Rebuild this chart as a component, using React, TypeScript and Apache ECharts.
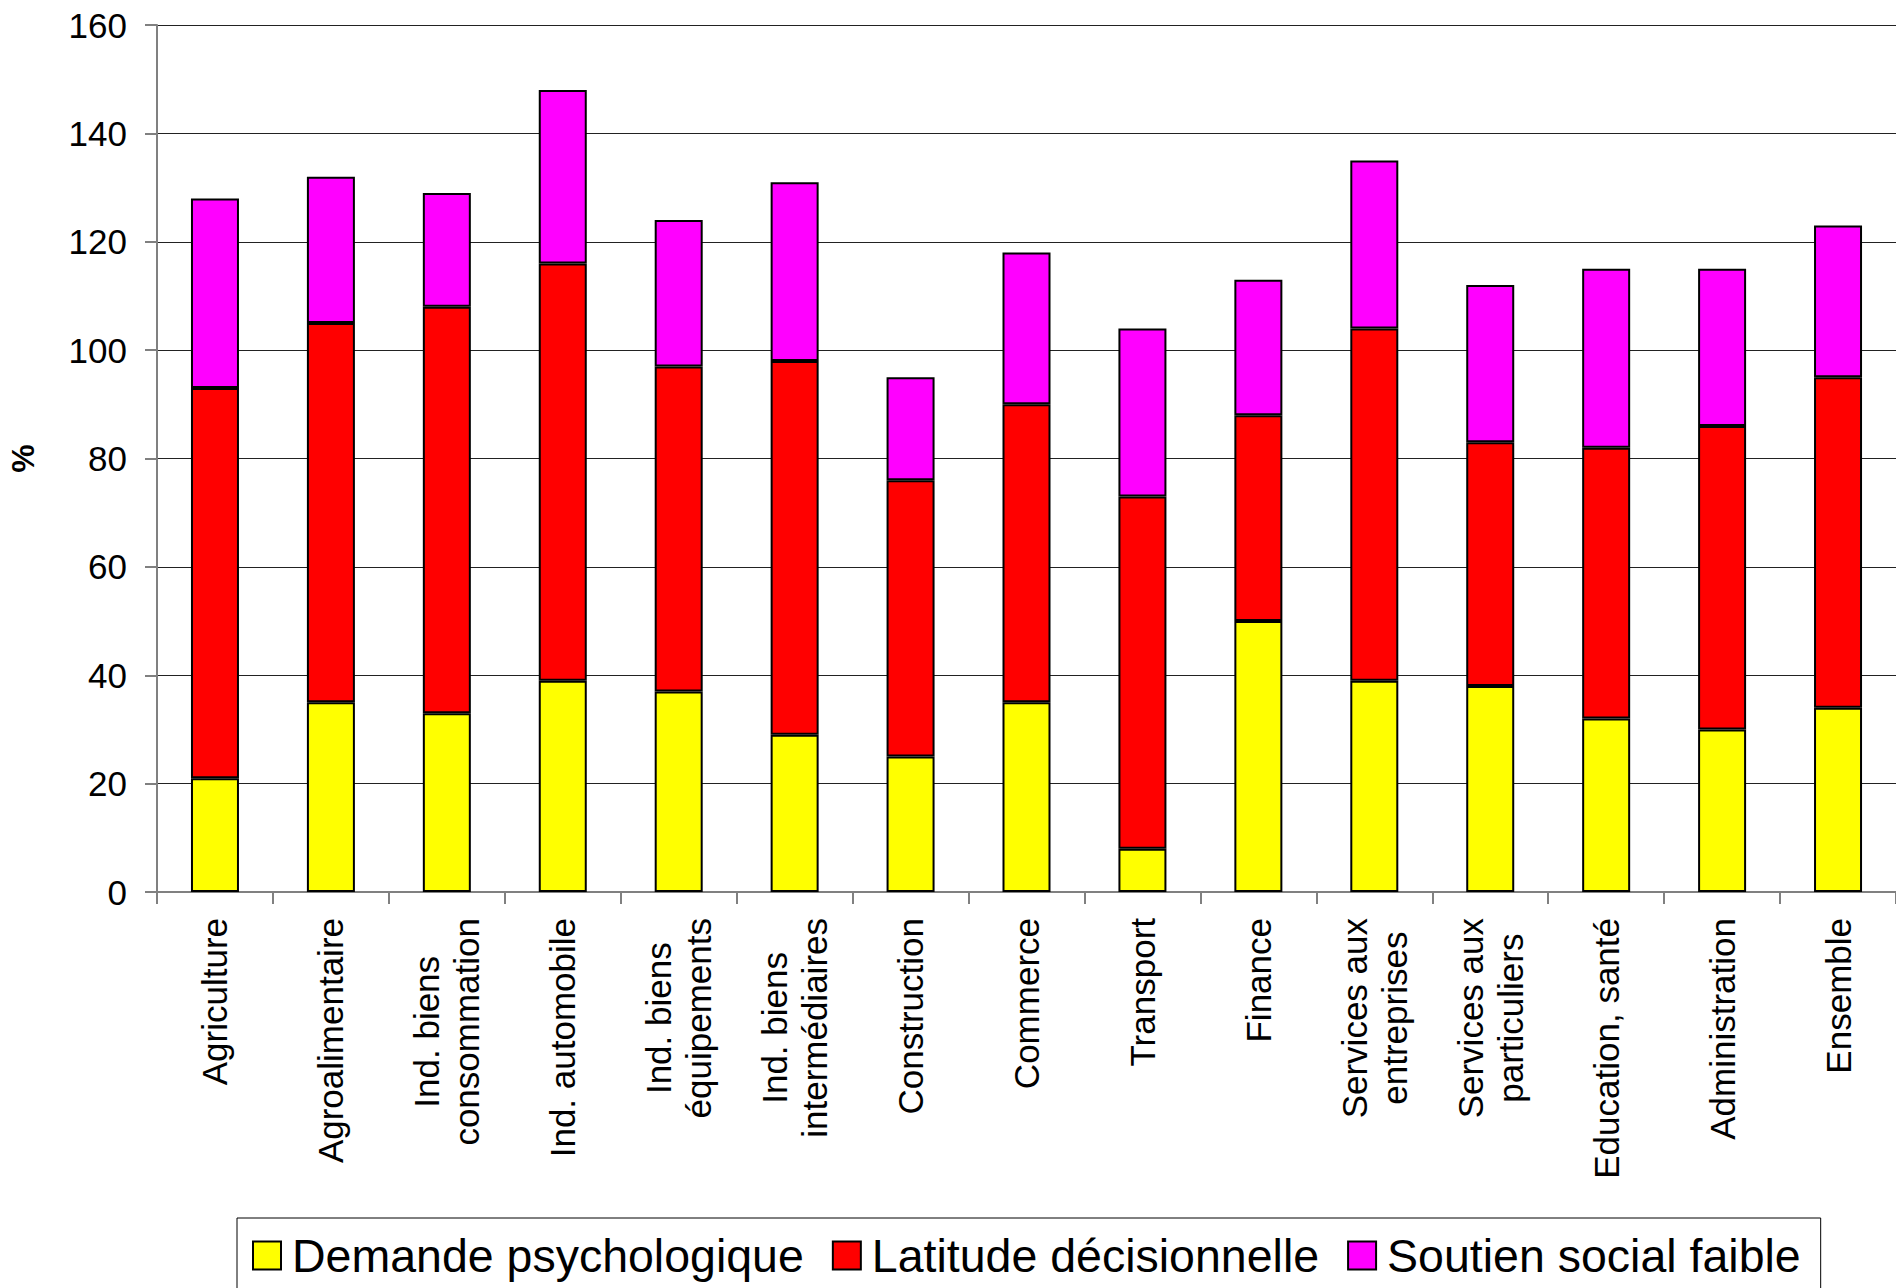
import React, { useEffect, useRef } from "react";
import * as echarts from "echarts";

const categories = [
  "Agriculture",
  "Agroalimentaire",
  "Ind. biens\nconsommation",
  "Ind. automobile",
  "Ind. biens\néquipements",
  "Ind. biens\nintermédiaires",
  "Construction",
  "Commerce",
  "Transport",
  "Finance",
  "Services aux\nentreprises",
  "Services aux\nparticuliers",
  "Education, santé",
  "Administration",
  "Ensemble",
];

const demandePsychologique = [21, 35, 33, 39, 37, 29, 25, 35, 8, 50, 39, 38, 32, 30, 34];
const latitudeDecisionnelle = [72, 70, 75, 77, 60, 69, 51, 55, 65, 38, 65, 45, 50, 56, 61];
const soutienSocialFaible = [35, 27, 21, 32, 27, 33, 19, 28, 31, 25, 31, 29, 33, 29, 28];

const seriesNames = ["Demande psychologique", "Latitude décisionnelle", "Soutien social faible"];
const seriesColors = ["#FFFF00", "#FF0000", "#FF00FF"];

const FONT = "'Liberation Sans', Arial, Helvetica, sans-serif";

export default function App() {
  const ref = useRef<HTMLDivElement>(null);

  useEffect(() => {
    if (!ref.current) return;
    const chart = echarts.init(ref.current, undefined, { renderer: "svg" });
    const values = [demandePsychologique, latitudeDecisionnelle, soutienSocialFaible];
    chart.setOption({
      animation: false,
      backgroundColor: "#fff",
      textStyle: { fontFamily: FONT },
      grid: {
        left: 157,
        top: 25,
        right: 0,
        bottom: 396,
        containLabel: false,
        outerBoundsMode: "none",
      },
      legend: {
        left: 237,
        top: 1218,
        orient: "horizontal",
        icon: "rect",
        itemWidth: 28,
        itemHeight: 28,
        itemGap: 28,
        borderColor: "#000",
        borderWidth: 1,
        padding: [14, 20, 20, 15],
        textStyle: { fontSize: 46.5, color: "#000", fontFamily: FONT, padding: [0, 0, 0, 6] },
        itemStyle: { borderColor: "#000", borderWidth: 2 },
        data: seriesNames,
      },
      xAxis: {
        type: "category",
        data: categories,
        boundaryGap: true,
        axisLine: { lineStyle: { color: "#808080", width: 2 } },
        axisTick: { show: true, length: 12, lineStyle: { color: "#808080", width: 2 } },
        axisLabel: {
          rotate: 90,
          margin: 26,
          interval: 0,
          color: "#000",
          fontFamily: FONT,
          fontSize: 35,
          lineHeight: 40,
          formatter: (v: string) =>
            v
              .split("\n")
              .map((l) => "{c|" + l + "}")
              .join("\n"),
          rich: {
            c: { align: "center", fontSize: 35, lineHeight: 40, fontFamily: FONT, color: "#000" },
          },
        },
      },
      yAxis: {
        type: "value",
        min: 0,
        max: 160,
        interval: 20,
        name: "%",
        nameLocation: "middle",
        nameGap: 118,
        nameRotate: 90,
        nameTextStyle: { fontSize: 32, fontWeight: "bold", color: "#000", fontFamily: FONT },
        axisLine: { show: true, lineStyle: { color: "#808080", width: 2 } },
        axisTick: { show: true, length: 12, lineStyle: { color: "#808080", width: 2 } },
        axisLabel: { margin: 30, fontSize: 35, color: "#000", fontFamily: FONT },
        splitLine: { show: true, lineStyle: { color: "#222", width: 1 } },
      },
      series: seriesNames.map((name, i) => ({
        name,
        type: "bar",
        stack: "total",
        barWidth: 48,
        data: values[i],
        itemStyle: { color: seriesColors[i], borderColor: "#000", borderWidth: 2 },
      })),
    });
    return () => chart.dispose();
  }, []);

  return (
    <div
      ref={ref}
      style={{ position: "fixed", left: 0, top: 0, width: 1896, height: 1288, background: "#fff" }}
    />
  );
}
